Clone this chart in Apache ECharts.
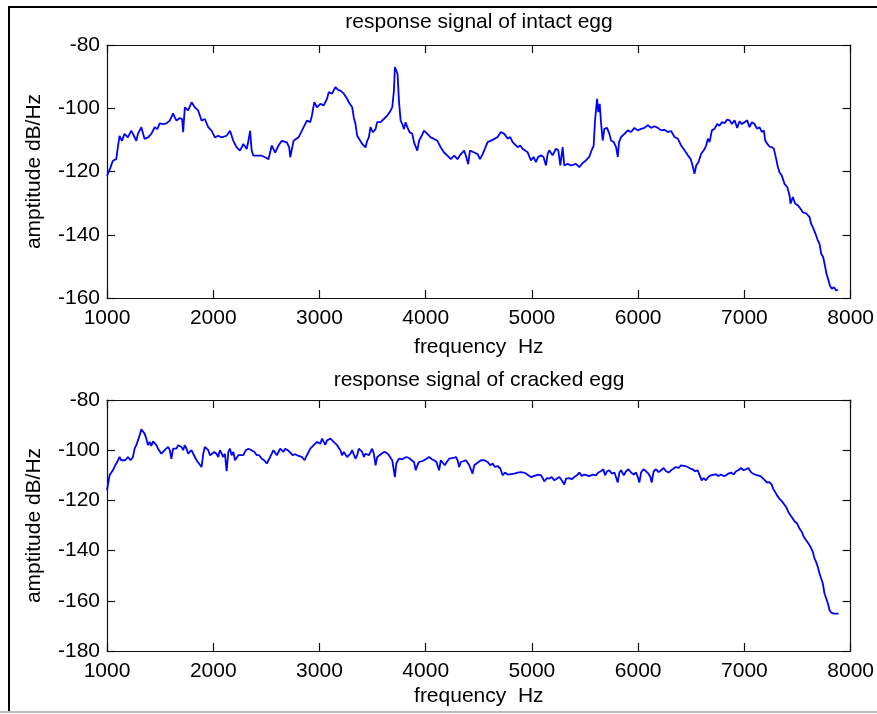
<!DOCTYPE html>
<html>
<head>
<meta charset="utf-8">
<script src="https://cdn.jsdelivr.net/npm/echarts@6/dist/echarts.min.js"></script>
<style>
  html, body { margin: 0; padding: 0; background: #fff; }
  #chart { width: 877px; height: 714px; }
</style>
</head>
<body>
<div id="chart"></div>
<script>
// frequency (Hz) and amplitude (dB/Hz)
const intactFreq = [1000,1033,1055,1087,1102,1118,1140,1165,1197,1228,1253,1276,1291,1323,1354,1386,1417,1449,1474,1496,
  1528,1559,1591,1622,1638,1654,1685,1707,1717,1726,1733,1764,1796,1811,1827,1858,1890,1921,1953,1984,
  2016,2047,2079,2126,2158,2189,2221,2252,2284,2315,2331,2347,2362,2378,2425,2457,2488,2520,2536,2551,
  2583,2614,2646,2693,2715,2725,2756,2803,2835,2851,2882,2914,2929,2951,2977,3008,3040,3071,3087,3118,
  3150,3175,3197,3229,3260,3276,3308,3323,3339,3355,3370,3402,3433,3449,3465,3480,3503,3528,3543,3575,
  3606,3638,3660,3685,3701,3710,3726,3735,3748,3764,3780,3795,3811,3827,3849,3874,3890,3905,3921,3937,
  3962,3984,4016,4047,4079,4110,4142,4173,4205,4236,4268,4299,4331,4362,4378,4400,4416,4457,4489,4511,
  4536,4583,4630,4677,4708,4740,4771,4796,4818,4865,4890,4912,4959,4990,5015,5037,5059,5084,5109,5132,
  5148,5163,5194,5226,5248,5267,5289,5304,5336,5367,5414,5446,5477,5508,5539,5562,5581,5594,5613,5625,
  5638,5650,5666,5682,5707,5729,5745,5770,5792,5808,5820,5839,5871,5902,5933,5965,5996,6028,6059,6091,
  6122,6153,6185,6216,6248,6279,6310,6342,6373,6405,6436,6468,6493,6512,6530,6546,6568,6593,6618,6640,
  6656,6672,6694,6719,6744,6766,6788,6813,6838,6860,6882,6907,6932,6954,6976,7001,7026,7048,7070,7095,
  7120,7142,7164,7183,7196,7214,7236,7258,7277,7299,7315,7330,7352,7377,7403,7425,7434,7456,7478,7503,
  7528,7550,7581,7613,7628,7650,7669,7691,7707,7723,7742,7761,7773,7792,7805,7823,7842,7864,7880];
const intactAmp = [-121.4,-118.7,-116.6,-116.1,-112.4,-108.7,-110.3,-108.1,-109.2,-107.1,-108.7,-110.3,-108.1,-106.0,-109.7,-109.2,-108.1,-106.0,-106.6,-104.8,
  -105.0,-104.8,-103.9,-101.6,-102.9,-103.9,-103.1,-103.4,-107.6,-102.9,-99.7,-100.7,-98.1,-98.6,-99.7,-100.7,-103.9,-103.4,-106.0,-107.1,
  -109.2,-108.7,-109.2,-108.7,-107.1,-110.3,-112.4,-113.4,-111.3,-112.9,-110.3,-107.1,-113.4,-115.0,-115.0,-115.0,-115.5,-116.1,-116.6,-111.8,
  -114.0,-111.8,-110.3,-110.8,-112.4,-115.5,-110.3,-109.2,-107.1,-106.0,-103.9,-104.4,-102.3,-98.1,-99.7,-98.6,-99.1,-97.0,-94.9,-95.4,
  -93.3,-94.2,-94.4,-95.4,-97.0,-98.1,-99.7,-102.9,-105.0,-108.7,-109.2,-111.3,-112.4,-110.3,-109.2,-106.0,-107.6,-106.6,-104.4,-104.4,
  -103.4,-102.3,-101.3,-99.7,-94.4,-87.0,-87.5,-89.1,-97.6,-103.9,-105.0,-106.6,-104.4,-106.0,-107.6,-108.1,-110.8,-111.3,-113.4,-110.3,
  -108.7,-107.1,-108.1,-109.2,-109.7,-110.3,-112.4,-114.0,-115.0,-116.1,-115.0,-116.1,-114.5,-113.4,-115.0,-117.7,-113.4,-114.0,-114.5,-116.1,
  -114.5,-110.7,-110.0,-109.1,-107.5,-108.1,-109.6,-109.1,-110.7,-112.3,-111.8,-112.8,-113.9,-116.5,-115.4,-117.0,-115.4,-114.9,-115.4,-118.1,
  -114.4,-113.3,-114.9,-112.8,-113.3,-118.1,-112.3,-118.1,-117.6,-118.1,-117.6,-118.6,-117.3,-116.5,-115.4,-113.3,-111.8,-103.8,-97.0,-101.2,
  -98.6,-104.4,-110.2,-106.5,-106.2,-108.1,-110.2,-110.7,-112.3,-115.4,-110.7,-109.1,-108.1,-107.0,-107.5,-106.2,-107.0,-106.5,-106.2,-105.4,
  -106.2,-105.7,-106.2,-107.0,-106.8,-107.5,-107.2,-109.1,-109.6,-111.8,-113.3,-114.9,-116.0,-118.1,-120.7,-118.1,-117.0,-114.4,-113.3,-111.8,
  -109.6,-110.7,-107.0,-106.5,-105.0,-105.5,-104.4,-104.7,-103.6,-103.8,-105.0,-103.8,-106.2,-104.1,-105.0,-104.4,-103.8,-106.0,-104.4,-105.0,
  -106.5,-106.0,-107.5,-107.0,-110.2,-111.2,-112.1,-112.3,-112.8,-116.0,-118.6,-120.2,-121.3,-123.9,-124.9,-127.6,-130.2,-128.1,-130.2,-130.7,
  -131.8,-132.9,-133.2,-134.4,-136.5,-138.1,-139.7,-141.8,-142.9,-146.0,-147.1,-150.3,-152.4,-154.5,-156.1,-157.1,-156.6,-157.6,-157.4];

const crackedFreq = [1000,1024,1055,1077,1096,1118,1134,1150,1172,1197,1222,1244,1260,1276,1291,1307,1323,1339,1354,1370,
  1386,1402,1417,1433,1449,1465,1480,1512,1543,1575,1591,1606,1622,1654,1669,1685,1701,1717,1732,1748,
  1764,1780,1795,1811,1827,1843,1858,1890,1906,1921,1937,1953,1969,1984,2009,2031,2047,2063,2079,2095,
  2110,2126,2142,2158,2173,2189,2205,2221,2236,2252,2284,2306,2331,2362,2388,2410,2432,2457,2479,2504,
  2520,2536,2551,2567,2583,2599,2614,2630,2646,2662,2677,2702,2725,2747,2772,2803,2835,2860,2873,2898,
  2914,2929,2945,2961,2977,2992,3008,3024,3040,3055,3071,3087,3103,3118,3134,3150,3166,3181,3197,3213,
  3229,3244,3260,3276,3292,3307,3323,3339,3355,3370,3386,3402,3418,3433,3449,3465,3481,3496,3512,3528,
  3544,3559,3584,3607,3629,3654,3670,3685,3701,3710,3723,3733,3748,3764,3780,3796,3818,3843,3868,3890,
  3906,3922,3937,3962,3985,4007,4032,4058,4079,4101,4126,4142,4158,4180,4198,4221,4237,4259,4284,4300,
  4315,4331,4353,4378,4394,4410,4425,4441,4457,4473,4498,4520,4551,4583,4608,4630,4652,4677,4702,4724,
  4746,4771,4802,4834,4865,4896,4922,4944,4966,4991,5016,5038,5060,5085,5104,5116,5141,5164,5186,5211,
  5236,5258,5280,5305,5321,5352,5374,5399,5424,5446,5468,5493,5518,5540,5572,5603,5625,5650,5672,5688,
  5707,5729,5751,5776,5791,5807,5823,5839,5864,5886,5908,5933,5958,5980,5996,6011,6027,6049,6074,6096,
  6115,6127,6146,6168,6193,6215,6240,6262,6287,6309,6334,6356,6381,6403,6419,6441,6466,6491,6513,6535,
  6560,6579,6598,6616,6638,6660,6685,6711,6733,6755,6780,6805,6827,6849,6874,6899,6921,6943,6968,6993,
  7015,7037,7056,7078,7100,7125,7150,7172,7194,7213,7235,7257,7270,7289,7307,7329,7351,7370,7392,7414,
  7433,7455,7471,7496,7518,7540,7559,7581,7603,7622,7644,7660,7675,7691,7707,7723,7738,7754,7770,7786,
  7801,7817,7842,7864,7886];
const crackedAmp = [-116.0,-110.0,-108.0,-106.0,-104.7,-102.7,-104.0,-103.4,-104.0,-102.7,-104.0,-102.7,-99.4,-98.0,-97.4,-94.1,-91.7,-91.4,-93.4,-95.4,
  -98.0,-96.7,-98.3,-96.5,-96.1,-98.0,-99.4,-101.4,-100.0,-98.7,-100.0,-103.4,-99.4,-99.4,-98.0,-97.4,-98.7,-100.0,-98.0,-99.4,
  -101.4,-102.0,-100.0,-101.4,-102.7,-104.0,-103.4,-106.7,-101.4,-98.7,-99.4,-100.0,-102.0,-102.0,-100.7,-101.4,-102.7,-100.0,-100.7,-102.7,
  -101.4,-108.4,-100.7,-99.4,-102.0,-100.7,-104.0,-103.4,-102.0,-102.7,-102.0,-100.0,-99.4,-100.0,-100.7,-102.0,-102.0,-103.4,-104.0,-105.3,
  -104.7,-102.7,-101.4,-100.0,-100.7,-102.0,-101.4,-99.4,-98.7,-100.7,-99.4,-100.0,-101.0,-102.0,-101.6,-102.3,-102.7,-104.0,-102.7,-100.7,
  -99.4,-100.0,-98.0,-97.4,-96.7,-96.1,-97.4,-95.4,-96.7,-97.8,-96.1,-96.7,-95.4,-95.1,-96.7,-97.4,-98.0,-98.0,-100.0,-102.0,
  -100.7,-101.4,-102.7,-102.7,-101.4,-100.0,-100.7,-103.4,-102.0,-99.4,-100.0,-100.7,-102.7,-101.4,-102.0,-102.0,-100.7,-99.4,-101.4,-106.0,
  -102.7,-102.0,-101.4,-100.7,-101.0,-102.0,-103.1,-104.0,-104.7,-110.7,-105.3,-104.7,-103.4,-102.7,-103.6,-103.4,-102.7,-103.1,-104.0,-104.7,
  -108.0,-106.0,-104.7,-104.4,-104.0,-103.4,-102.7,-103.6,-104.0,-104.7,-108.0,-104.0,-103.4,-106.0,-104.7,-103.4,-102.7,-103.1,-102.7,-104.0,
  -106.7,-104.7,-104.4,-104.0,-104.7,-106.0,-106.7,-109.3,-106.0,-105.3,-104.7,-104.0,-104.0,-104.7,-106.0,-105.3,-106.7,-106.3,-107.3,-110.0,
  -108.9,-109.7,-109.5,-109.3,-108.9,-108.7,-108.9,-109.3,-110.0,-110.7,-110.3,-110.0,-109.7,-110.0,-111.3,-112.4,-111.1,-111.3,-110.7,-112.0,
  -111.3,-110.7,-112.0,-113.7,-111.3,-111.1,-111.6,-110.7,-110.0,-108.9,-110.3,-109.7,-110.0,-110.3,-109.7,-110.0,-108.9,-108.4,-107.6,-110.0,
  -108.4,-108.0,-109.3,-108.9,-110.7,-112.9,-108.9,-108.0,-110.0,-108.4,-107.6,-108.9,-109.7,-108.9,-110.7,-112.9,-108.9,-107.6,-108.4,-109.3,
  -110.7,-112.9,-108.4,-107.6,-108.7,-108.0,-107.1,-108.4,-108.9,-108.0,-107.3,-106.7,-107.1,-106.0,-105.3,-106.3,-106.7,-107.3,-107.6,-108.4,
  -108.0,-110.0,-112.0,-111.1,-112.0,-110.7,-110.0,-109.7,-109.6,-110.3,-109.7,-110.3,-110.0,-109.3,-108.9,-109.7,-108.4,-108.0,-107.1,-108.0,
  -107.6,-107.1,-108.4,-109.3,-109.7,-110.0,-110.3,-111.1,-112.0,-112.9,-112.7,-113.7,-115.3,-116.6,-118.0,-119.3,-120.3,-121.3,-122.6,-124.6,
  -125.9,-127.2,-128.3,-129.2,-131.2,-132.5,-134.5,-135.9,-137.2,-138.5,-140.5,-143.2,-144.5,-146.5,-149.1,-151.1,-153.1,-157.1,-159.1,-161.1,
  -163.7,-164.7,-165.1,-165.1,-165.1];

const xTicks = [1000, 8000, 1000];      // min, max, step
const yTicksTop = [-160, -80, 20];
const yTicksBottom = [-180, -80, 20];

const chart = echarts.init(document.getElementById('chart'));
const font = '"Liberation Sans", Arial, sans-serif';
const txt = { color: '#000', fontSize: 21, fontFamily: font };

function pairs(xs, ys) {
  return xs.map((x, i) => [x, ys[i]]);
}

function xAxisPair(grid, name, gap) {
  const base = {
    type: 'value', gridIndex: grid,
    min: xTicks[0], max: xTicks[1], interval: xTicks[2],
    axisLine: { lineStyle: { color: '#111', width: 1.2 } },
    axisTick: { inside: true, length: 8, lineStyle: { color: '#111', width: 1.2 } },
    splitLine: { show: false },
  };
  return [
    Object.assign({}, base, {
      position: 'bottom',
      axisLabel: Object.assign({ margin: 10, showMinLabel: true, showMaxLabel: true, formatter: (v) => String(v) }, txt),
      name: name, nameLocation: 'middle', nameGap: gap, nameTextStyle: txt,
    }),
    Object.assign({}, base, { position: 'top', axisLabel: { show: false } }),
  ];
}

function yAxisPair(grid, ticks) {
  const base = {
    type: 'value', gridIndex: grid,
    min: ticks[0], max: ticks[1], interval: ticks[2],
    axisLine: { lineStyle: { color: '#111', width: 1.2 } },
    axisTick: { inside: true, length: 8, lineStyle: { color: '#111', width: 1.2 } },
    splitLine: { show: false },
  };
  return [
    Object.assign({}, base, {
      position: 'left',
      axisLabel: Object.assign({ margin: 7, showMinLabel: true, showMaxLabel: true, formatter: (v) => String(v) }, txt),
      name: 'amptitude dB/Hz', nameLocation: 'middle', nameRotate: 90, nameGap: 62, nameTextStyle: txt,
    }),
    Object.assign({}, base, { position: 'right', axisLabel: { show: false } }),
  ];
}

const option = {
  animation: false,
  backgroundColor: '#fff',
  grid: [
    { left: 107, top: 45, width: 744, height: 253 },
    { left: 107, top: 400, width: 744, height: 251 },
  ],
  xAxis: [].concat(xAxisPair(0, 'frequency  Hz', 39), xAxisPair(1, 'frequency  Hz', 35)),
  yAxis: [].concat(yAxisPair(0, yTicksTop), yAxisPair(1, yTicksBottom)),
  series: [
    {
      type: 'line', xAxisIndex: 0, yAxisIndex: 0, showSymbol: false,
      lineStyle: { color: '#0000ff', width: 1.8 },
      data: pairs(intactFreq, intactAmp),
    },
    {
      type: 'line', xAxisIndex: 2, yAxisIndex: 2, showSymbol: false,
      lineStyle: { color: '#0000ff', width: 1.8 },
      data: pairs(crackedFreq, crackedAmp),
    },
  ],
  graphic: [
    { type: 'text', x: 479, y: 22, style: { text: 'response signal of intact egg', align: 'center', verticalAlign: 'middle', fill: '#000', font: '21px ' + font } },
    { type: 'text', x: 479, y: 380, style: { text: 'response signal of cracked egg', align: 'center', verticalAlign: 'middle', fill: '#000', font: '21px ' + font } },
    // figure frame
    { type: 'line', shape: { x1: 9, y1: 7, x2: 877, y2: 7 }, style: { stroke: '#000', lineWidth: 2 } },
    { type: 'line', shape: { x1: 9, y1: 6, x2: 9, y2: 712 }, style: { stroke: '#000', lineWidth: 2 } },
    { type: 'line', shape: { x1: 0, y1: 712, x2: 877, y2: 712 }, style: { stroke: '#bbb', lineWidth: 2 } },
  ],
};
chart.setOption(option);
</script>
</body>
</html>
